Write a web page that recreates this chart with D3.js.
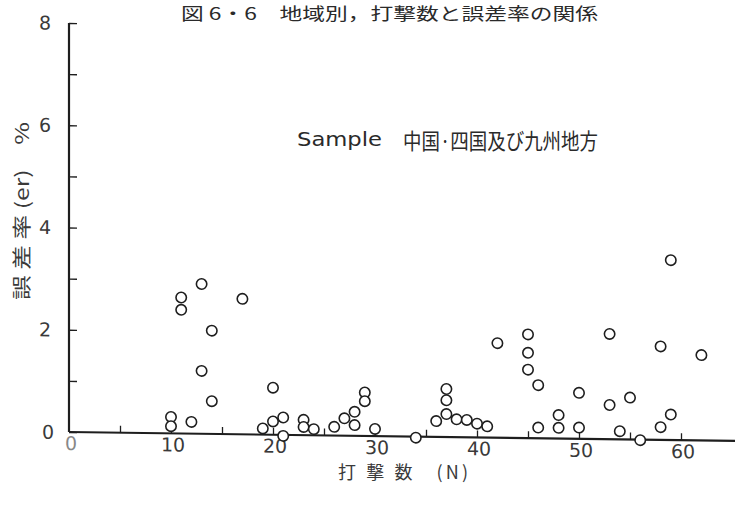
<!DOCTYPE html>
<html>
<head>
<meta charset="utf-8">
<script src="https://cdn.jsdelivr.net/npm/d3@7"></script>
<style>
  body { margin: 0; background: #fff; }
  svg { display: block; }
</style>
</head>
<body>
<div id="grafica"></div>
<script>
//data
var golpes = [10, 10, 11, 11, 12, 13, 13, 14, 14, 17,
              19, 20, 20, 21, 21, 23, 23, 24, 26, 27, 28, 28, 29, 29, 30, 34,
              36, 37, 37, 37, 38, 39, 40, 41, 42, 45, 45, 45, 46, 46, 48, 48, 50, 50,
              53, 53, 54, 55, 56, 58, 58, 59, 59, 62];
var errores = [0.32, 0.14, 2.66, 2.42, 0.23, 2.93, 1.23, 2.02, 0.64, 2.65,
               0.12, 0.92, 0.26, 0.34, -0.02, 0.30, 0.16, 0.12, 0.17, 0.34, 0.47, 0.21, 0.85, 0.68, 0.14, -0.02,
               0.31, 0.94, 0.72, 0.45, 0.35, 0.34, 0.27, 0.22, 1.85, 2.03, 1.67, 1.34, 1.04, 0.21, 0.46, 0.21, 0.90, 0.22,
               2.06, 0.67, 0.16, 0.82, -0.01, 1.83, 0.25, 3.52, 0.50, 1.67];
var xTicks = [0, 10, 20, 30, 40, 50, 60];
var yTicks = [0, 2, 4, 6, 8];

var titulo = "図 6・6　地域別，打撃数と誤差率の関係";
var muestra = "Sample";
var region = "中国·四国及び九州地方";
var ejeY = "誤 差 率 (er)　%";
var ejeX = "打 撃 数　(N)";

var width = 737, height = 506;
var x0 = 69, y0 = 432;

var x = d3.scaleLinear().domain([0, 60]).range([x0, x0 + 612]);
var y = d3.scaleLinear().domain([0, 8]).range([y0, 23]);

var puntos = golpes.map(function(d, i) { return {n: d, er: errores[i]}; });

var svg = d3.select("#grafica").append("svg")
    .attr("width", width)
    .attr("height", height);

var tinta = "#1e1e1e";
var num = "'DejaVu Sans', sans-serif";
var jp = "'Noto Sans CJK JP', sans-serif";

//title
svg.append("text")
    .attr("x", 181).attr("y", 20)
    .attr("font-family", jp).attr("font-size", 17)
    .attr("textLength", 417).attr("lengthAdjust", "spacingAndGlyphs")
    .attr("fill", "#2a2a2a")
    .text(titulo);

//the scan is slightly slanted, so the plot is skewed a little
var g = svg.append("g")
    .attr("transform", "translate(" + x0 + "," + y0 + ") skewY(0.77) translate(" + (-x0) + "," + (-y0) + ")");

//y axis
var yAxis = d3.axisRight(y).ticks(8).tickSize(8).tickFormat("");
var gy = g.append("g").attr("transform", "translate(" + x0 + ",0)").call(yAxis);
gy.select(".domain").remove();
gy.selectAll(".tick line").attr("stroke", tinta).attr("stroke-width", 1.3);
g.append("line")
    .attr("x1", x0).attr("x2", x0)
    .attr("y1", y(8)).attr("y2", y0)
    .attr("stroke", tinta).attr("stroke-width", 2.2);

g.selectAll(".ylab")
    .data(yTicks)
    .enter().append("text")
    .attr("class", "ylab")
    .attr("x", function(d) { return d === 0 ? 48 : 45; })
    .attr("y", function(d) { return y(d) + 7; })
    .attr("text-anchor", "middle")
    .attr("font-family", num).attr("font-size", 19)
    .attr("fill", "#3a3a3a")
    .text(function(d) { return d; });

//x axis
g.append("line")
    .attr("x1", x0).attr("x2", 735)
    .attr("y1", y0).attr("y2", y0)
    .attr("stroke", tinta).attr("stroke-width", 2.2);

var xAxis = d3.axisTop(x).tickValues(d3.range(5, 61, 5)).tickSize(7).tickFormat("");
var gx = g.append("g").attr("transform", "translate(0," + y0 + ")").call(xAxis);
gx.select(".domain").remove();
gx.selectAll(".tick line").attr("stroke", tinta).attr("stroke-width", 1.3);

g.selectAll(".xlab")
    .data(xTicks)
    .enter().append("text")
    .attr("class", "xlab")
    .attr("x", function(d) { return x(d) + 2; })
    .attr("y", y0 + 18)
    .attr("text-anchor", "middle")
    .attr("font-family", num).attr("font-size", 19)
    .attr("fill", function(d) { return d === 0 ? "#888" : "#3a3a3a"; })
    .text(function(d) { return d; });

//points
g.selectAll("circle")
    .data(puntos)
    .enter().append("circle")
    .attr("cx", function(d) { return x(d.n); })
    .attr("cy", function(d) { return y(d.er); })
    .attr("r", 5.2)
    .attr("fill", "#fff")
    .attr("stroke", tinta)
    .attr("stroke-width", 1.6);

//labels
svg.append("text")
    .attr("x", 297).attr("y", 146)
    .attr("font-family", num).attr("font-size", 19)
    .attr("textLength", 85).attr("lengthAdjust", "spacingAndGlyphs")
    .attr("fill", "#2a2a2a")
    .text(muestra);
svg.append("text")
    .attr("x", 403).attr("y", 149)
    .attr("font-family", jp).attr("font-size", 22)
    .attr("textLength", 195).attr("lengthAdjust", "spacingAndGlyphs")
    .attr("fill", "#2a2a2a")
    .text(region);

svg.append("text")
    .attr("transform", "translate(29,300) rotate(-90)")
    .attr("font-family", jp).attr("font-size", 19)
    .attr("textLength", 178).attr("lengthAdjust", "spacingAndGlyphs")
    .attr("fill", "#3a3a3a")
    .text(ejeY);

svg.append("text")
    .attr("x", 338).attr("y", 479)
    .attr("font-family", jp).attr("font-size", 18)
    .attr("textLength", 130).attr("lengthAdjust", "spacing")
    .attr("fill", "#3a3a3a")
    .text(ejeX);
</script>
</body>
</html>
